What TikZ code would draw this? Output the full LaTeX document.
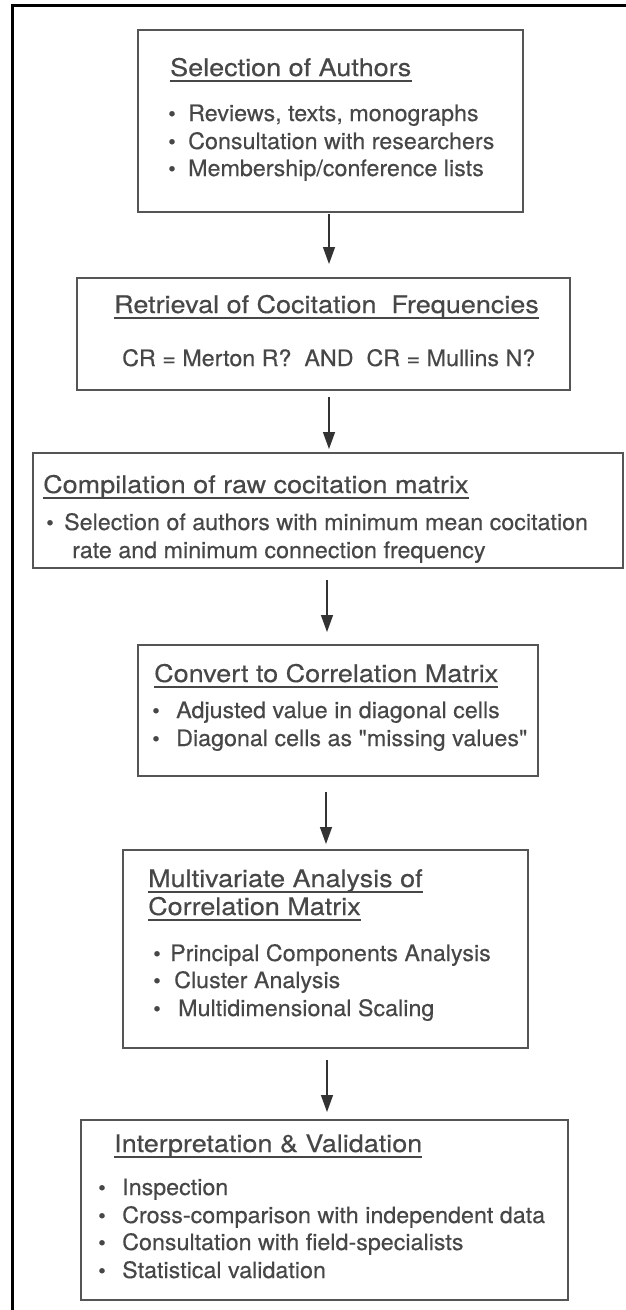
\documentclass[tikz,border=0pt]{standalone}
\usepackage{fontspec}
\setmainfont{TeX Gyre Heros}
\newfontfamily\bodyfont[FakeStretch=1.03,FakeBold=0.35]{TeX Gyre Heros}
\newfontfamily\headfont[FakeStretch=1.11,FakeBold=0.35]{TeX Gyre Heros}
\usetikzlibrary{arrows.meta}
\definecolor{ink}{HTML}{474747}
\definecolor{frame}{HTML}{555555}
\definecolor{wire}{HTML}{333333}

\begin{document}
\begin{tikzpicture}[x=1pt,y=-1pt,
  stage/.style={draw=frame, line width=1.8pt, inner sep=0pt, outer sep=0pt},
  head/.style={anchor=base west, inner sep=0pt, text=ink,
    font=\headfont\fontsize{24.3}{24.3}\selectfont},
  body/.style={anchor=base west, inner sep=0pt, text=ink,
    font=\bodyfont\fontsize{22.6}{22.6}\selectfont},
  bul/.style={anchor=base, inner sep=0pt, text=ink,
    font=\bodyfont\fontsize{21}{21}\selectfont},
  uline/.style={draw=ink, line width=1.2pt},
  flow/.style={draw=wire, line width=1.4pt, -{Triangle[width=12pt,length=17pt]}}]

% page frame
\useasboundingbox (0,0) rectangle (626,1310);
\fill[white] (0,0) rectangle (626,1310);
\coordinate (fl) at (12,1310);
\coordinate (ft) at (12,5);
\coordinate (fr) at (626,5);
\draw[black, line width=3pt] (fl) -- (ft) -- (fr);

% stage boxes
\node[stage, minimum width=385pt, minimum height=182pt] (b1) at (330.5,121) {};
\node[stage, minimum width=493pt, minimum height=112pt] (b2) at (323.5,334) {};
\node[stage, minimum width=590pt, minimum height=115pt] (b3) at (328,510.5) {};
\node[stage, minimum width=400pt, minimum height=131pt] (b4) at (338,710.5) {};
\node[stage, minimum width=405pt, minimum height=198pt] (b5) at (325.5,949) {};
\node[stage, minimum width=487pt, minimum height=180pt] (b6) at (324.5,1210) {};

% box 1
\node[head] (t1) at (170,76) {Selection of Authors};
\node[bul] (p11) at (172,121) {\textbullet};
\node[body] (l11) at (188,121) {Reviews, texts, monographs};
\node[bul] (p12) at (172,149) {\textbullet};
\node[body] (l12) at (188,149) {Consultation with researchers};
\node[bul] (p13) at (172,176) {\textbullet};
\node[body] (l13) at (188,176) {Membership/conference lists};

% box 2
\node[head] (t2) at (114,313) {Retrieval of Cocitation\ \ Frequencies};
\node[body] (l21) at (122,366) {CR = Merton R?\ \ AND\ \ CR = Mullins N?};

% box 3
\node[head] (t3) at (43,493) {Compilation of raw cocitation matrix};
\node[bul] (p31) at (50,530) {\textbullet};
\node[body] (l31) at (64,530) {Selection of authors with minimum mean cocitation};
\node[body] (l32) at (72,558) {rate and minimum connection frequency};

% box 4
\node[head] (t4) at (154,682) {Convert to Correlation Matrix};
\node[bul] (p41) at (156,718) {\textbullet};
\node[body] (l41) at (176,718) {Adjusted value in diagonal cells};
\node[bul] (p42) at (156,746) {\textbullet};
\node[body] (l42) at (176,746) {Diagonal cells as "missing values"};

% box 5
\node[head] (t5) at (148,887) {Multivariate Analysis of};
\node[head] (t5b) at (148,915) {Correlation Matrix};
\node[bul] (p51) at (157,961) {\textbullet};
\node[body] (l51) at (170,961) {Principal Components Analysis};
\node[bul] (p52) at (157,988) {\textbullet};
\node[body] (l52) at (174,988) {Cluster Analysis};
\node[bul] (p53) at (157,1016) {\textbullet};
\node[body] (l53) at (178,1016) {Multidimensional Scaling};

% box 6
\node[head] (t6) at (114,1152) {Interpretation \& Validation};
\node[bul] (p61) at (102,1195) {\textbullet};
\node[body] (l61) at (122,1195) {Inspection};
\node[bul] (p62) at (102,1223) {\textbullet};
\node[body] (l62) at (122,1223) {Cross-comparison with independent data};
\node[bul] (p63) at (102,1250) {\textbullet};
\node[body] (l63) at (122,1250) {Consultation with field-specialists};
\node[bul] (p64) at (102,1278) {\textbullet};
\node[body] (l64) at (122,1278) {Statistical validation};

% heading underlines
\foreach \t in {t1,t2,t3,t4,t5,t5b,t6}
  \draw[uline] ([yshift=-5pt]\t.base west) -- ([yshift=-5pt]\t.base east);

% flow arrows
\coordinate (a1) at (329,0);
\coordinate (a2) at (329,0);
\coordinate (a3) at (327,0);
\coordinate (a4) at (326,0);
\coordinate (a5) at (327,0);
\draw[flow, shorten <=2pt, shorten >=14pt] (b1.south -| a1) -- (b2.north -| a1);
\draw[flow, shorten <=7pt, shorten >=4pt] (b2.south -| a2) -- (b3.north -| a2);
\draw[flow, shorten <=12pt, shorten >=13pt] (b3.south -| a3) -- (b4.north -| a3);
\draw[flow, shorten <=16pt, shorten >=6pt] (b4.south -| a4) -- (b5.north -| a4);
\draw[flow, shorten <=12pt, shorten >=8pt] (b5.south -| a5) -- (b6.north -| a5);
\end{tikzpicture}
\end{document}
